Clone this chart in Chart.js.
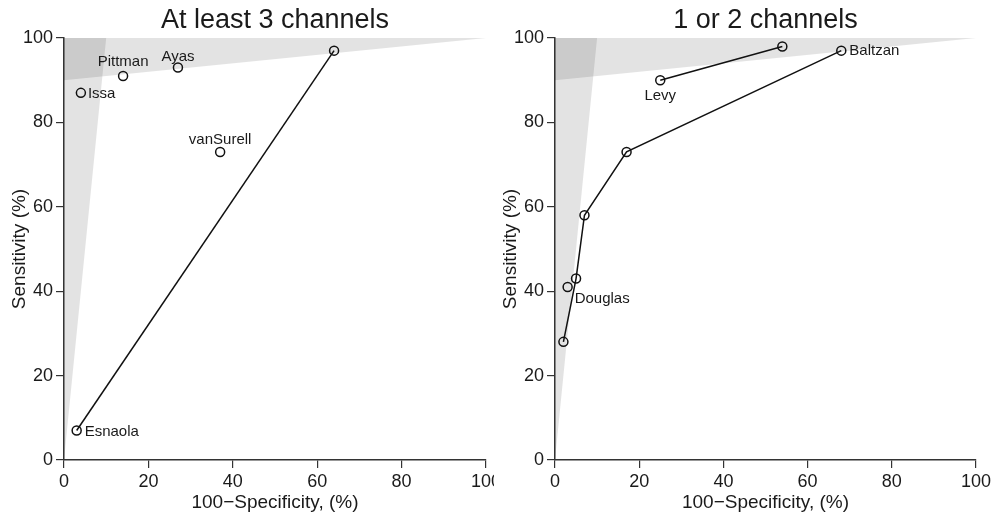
<!DOCTYPE html>
<html>
<head>
<meta charset="utf-8">
<script src="https://cdn.jsdelivr.net/npm/chart.js@4.4.1/dist/chart.umd.min.js"></script>
<style>
  body { margin: 0; background: #fff; }
  #left { position: absolute; left: 0; top: 0; width: 494px; height: 516px; overflow: hidden; }
  #right { position: absolute; left: 494px; top: 0; width: 500px; height: 516px; overflow: hidden; }
</style>
</head>
<body>
<div id="left"><canvas id="c1" width="510" height="516"></canvas></div>
<div id="right"><canvas id="c2" width="510" height="516"></canvas></div>
<script>
// data (x = 100-specificity %, y = sensitivity %)
const axisTicks = [0, 20, 40, 60, 80, 100];

// at least 3 channels
const leftNames = ['Pittman', 'Ayas', 'Issa', 'vanSurell'];
const leftFpr = [14, 27, 4, 37];
const leftSens = [91, 93, 87, 73];
const esnaolaFpr = [3, 64];
const esnaolaSens = [7, 97];

// 1 or 2 channels
const levyFpr = [25, 54];
const levySens = [90, 98];
const baltzanFpr = [2, 5, 7, 17, 68];
const baltzanSens = [28, 43, 58, 73, 97];
const douglasFpr = [3];
const douglasSens = [41];

// shaded regions (corners in data units)
const specRegionX = [0, 0, 10];
const specRegionY = [0, 100, 100];
const sensRegionX = [0, 0, 100];
const sensRegionY = [90, 100, 100];

// where each study name sits relative to its marker
const labelPos = {
  Pittman: { dx: 0, dy: -14, align: 'center' },
  Ayas: { dx: 0, dy: -11, align: 'center' },
  Issa: { dx: 7, dy: 1, align: 'left' },
  vanSurell: { dx: 0, dy: -12, align: 'center' },
  Esnaola: { dx: 8, dy: 1, align: 'left' },
  Levy: { dx: 0, dy: 16, align: 'center' },
  Baltzan: { dx: 8, dy: 0, align: 'left' },
  Douglas: { dx: 7, dy: 12, align: 'left' }
};

const FONT = "'Liberation Sans', Arial, Helvetica, sans-serif";
const INK = '#1a1a1a';

function pts(xs, ys) {
  return xs.map((x, i) => ({ x: x, y: ys[i] }));
}

function series(xs, ys, names, line) {
  return {
    data: pts(xs, ys),
    names: names,
    showLine: line,
    borderColor: '#111',
    borderWidth: 1.5,
    backgroundColor: 'rgba(0,0,0,0)',
    pointRadius: 4.5,
    pointHoverRadius: 4.5,
    pointBorderWidth: 1.5,
    pointBorderColor: '#111',
    pointBackgroundColor: 'rgba(0,0,0,0)',
    clip: false
  };
}

// grey wedges behind the points
const shading = {
  id: 'shading',
  beforeDatasetsDraw(chart) {
    const ctx = chart.ctx, xs = chart.scales.x, ys = chart.scales.y;
    ctx.save();
    ctx.fillStyle = 'rgba(0,0,0,0.11)';
    [[specRegionX, specRegionY], [sensRegionX, sensRegionY]].forEach(r => {
      ctx.beginPath();
      r[0].forEach((v, i) => {
        const px = xs.getPixelForValue(v), py = ys.getPixelForValue(r[1][i]);
        if (i === 0) ctx.moveTo(px, py); else ctx.lineTo(px, py);
      });
      ctx.closePath();
      ctx.fill();
    });
    ctx.restore();
  }
};

// study names next to the markers + panel title over the plot area
const names = {
  id: 'names',
  afterDatasetsDraw(chart) {
    const ctx = chart.ctx;
    ctx.save();
    ctx.font = '15px ' + FONT;
    ctx.fillStyle = INK;
    ctx.textBaseline = 'middle';
    chart.data.datasets.forEach((ds, d) => {
      const meta = chart.getDatasetMeta(d);
      (ds.names || []).forEach((n, i) => {
        if (!n) return;
        const p = labelPos[n], el = meta.data[i];
        ctx.textAlign = p.align;
        ctx.fillText(n, el.x + p.dx, el.y + p.dy);
      });
    });
    const a = chart.chartArea;
    ctx.font = '27px ' + FONT;
    ctx.textAlign = 'center';
    ctx.textBaseline = 'alphabetic';
    ctx.fillText(chart.options.panelTitle, (a.left + a.right) / 2, 28);
    ctx.restore();
  }
};

function axis(title, isX, yAxis) {
  return {
    type: 'linear',
    min: 0,
    max: 100,
    afterBuildTicks: s => { s.ticks = axisTicks.map(v => ({ value: v })); },
    afterFit: s => {
      if (isX) s.height = 56; else s.width = yAxis.width;
    },
    grid: { drawOnChartArea: false, drawTicks: true, tickLength: 8, color: '#333', lineWidth: 1.2 },
    border: { display: true, color: '#333', width: 1.5 },
    ticks: { color: INK, padding: 3, font: { family: FONT, size: 18 } },
    title: {
      display: true,
      text: title,
      color: INK,
      font: { family: FONT, size: 19 },
      padding: isX ? { top: 0, bottom: 2 } : { top: yAxis.pad, bottom: 0 }
    }
  };
}

function makeChart(id, title, datasets, padRight, yAxisW, yTitlePad) {
  return new Chart(document.getElementById(id), {
    type: 'scatter',
    data: { datasets: datasets },
    plugins: [shading, names],
    options: {
      panelTitle: title,
      responsive: false,
      animation: false,
      devicePixelRatio: 1,
      layout: { padding: { left: 0, right: padRight, top: 38, bottom: 0 } },
      plugins: {
        legend: { display: false },
        tooltip: { enabled: false },
        title: { display: false }
      },
      scales: {
        x: axis('100\u2212Specificity, (%)', true),
        y: axis('Sensitivity (%)', false, { width: yAxisW, pad: yTitlePad })
      }
    }
  });
}

makeChart('c1', 'At least 3 channels', [
  series(leftFpr, leftSens, leftNames, false),
  series(esnaolaFpr, esnaolaSens, ['Esnaola', null], true)
], 24, 64, 8.6);

makeChart('c2', '1 or 2 channels', [
  series(levyFpr, levySens, ['Levy', null], true),
  series(baltzanFpr, baltzanSens, [null, null, null, null, 'Baltzan'], true),
  series(douglasFpr, douglasSens, ['Douglas'], false)
], 28, 61, 5);
</script>
</body>
</html>
